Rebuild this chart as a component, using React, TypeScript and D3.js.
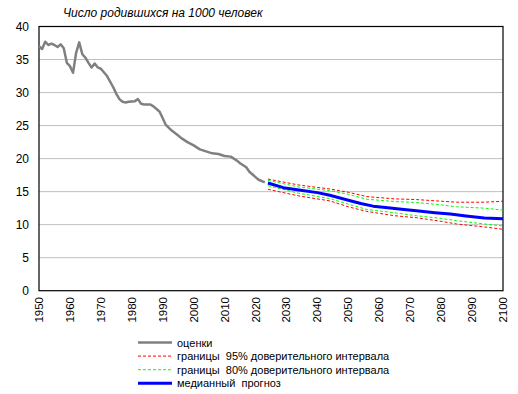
import { useEffect, useRef } from 'react';
import * as d3 from 'd3';

// Оценки (годы и значения)
const estYears = [1950, 1951, 1952, 1953, 1954, 1955, 1956, 1957, 1958, 1959, 1960, 1961, 1962, 1963, 1964, 1965, 1966, 1967, 1968, 1969, 1970, 1972, 1974, 1975, 1976, 1977, 1978, 1979, 1981, 1982, 1983, 1984, 1986, 1987, 1988, 1989, 1990, 1991, 1993, 1995, 1996, 1998, 2000, 2002, 2004, 2006, 2008, 2010, 2012, 2014, 2015, 2017, 2018, 2020, 2021, 2023];
const estValues = [37.0, 36.6, 37.7, 37.2, 37.4, 37.2, 36.9, 37.3, 36.7, 34.5, 34.0, 33.0, 36.0, 37.6, 35.8, 35.3, 34.5, 33.8, 34.4, 33.8, 33.6, 32.5, 30.8, 29.8, 29.0, 28.6, 28.5, 28.6, 28.7, 29.0, 28.3, 28.2, 28.2, 27.9, 27.5, 27.1, 26.1, 25.1, 24.2, 23.5, 23.1, 22.5, 22.0, 21.4, 21.1, 20.8, 20.7, 20.4, 20.3, 19.7, 19.3, 18.7, 18.0, 17.2, 16.8, 16.4];

// Прогноз
const projYears = [2024, 2029, 2034, 2040, 2044, 2050, 2054, 2058, 2062, 2068, 2072, 2078, 2083, 2088, 2094, 2100];
const median = [16.3, 15.6, 15.25, 14.85, 14.45, 13.7, 13.2, 12.8, 12.6, 12.3, 12.1, 11.8, 11.6, 11.3, 11.0, 10.9];

const bandYears = [2024, 2034, 2044, 2050, 2056, 2065, 2072, 2080, 2085, 2094, 2100];
const upper95 = [16.9, 16.0, 15.4, 14.9, 14.25, 13.9, 13.8, 13.55, 13.4, 13.4, 13.55];
const upper80 = [16.7, 15.7, 15.15, 14.6, 13.85, 13.5, 13.35, 13.0, 12.7, 12.5, 12.2];
const lower80 = [15.9, 14.75, 13.95, 13.1, 12.3, 11.8, 11.35, 10.95, 10.6, 10.1, 9.8];
const lower95 = [15.35, 14.35, 13.6, 12.7, 12.0, 11.35, 11.05, 10.5, 10.1, 9.65, 9.3];

const yTicks = [0, 5, 10, 15, 20, 25, 30, 35, 40];
const xTicks = d3.range(1950, 2101, 10);

const legendItems = [
  { label: 'оценки', color: '#808080', width: 2.5, dash: null },
  { label: 'границы  95% доверительного интервала', color: '#FF0000', width: 1, dash: '3,2' },
  { label: 'границы  80% доверительного интервала', color: '#00FF00', width: 1, dash: '3,2' },
  { label: 'медианный  прогноз', color: '#0000FF', width: 3, dash: null },
];

export default function App() {
  const svgRef = useRef<SVGSVGElement>(null);

  useEffect(() => {
    const svg = d3.select(svgRef.current);
    svg.selectAll('*').remove();
    const font = 'Arial, "Liberation Sans", sans-serif';

    const x = d3.scaleLinear().domain([1950, 2100]).range([39, 503]);
    const y = d3.scaleLinear().domain([0, 40]).range([290.7, 26.5]);

    // Title
    svg.append('text').attr('x', 63).attr('y', 17)
      .attr('font-family', font).attr('font-size', 12).attr('font-style', 'italic')
      .attr('fill', '#000').text('Число родившихся на 1000 человек');

    // Grid
    svg.append('g').selectAll('line').data(yTicks.filter((t) => t > 0 && t < 40)).join('line')
      .attr('x1', x(1950)).attr('x2', x(2100))
      .attr('y1', (d) => y(d)).attr('y2', (d) => y(d))
      .attr('stroke', '#C0C0C0').attr('stroke-width', 1);

    // Frame
    svg.append('rect').attr('x', x(1950)).attr('y', y(40))
      .attr('width', x(2100) - x(1950)).attr('height', y(0) - y(40))
      .attr('fill', 'none').attr('stroke', '#000').attr('stroke-width', 1.2);

    // Y labels
    svg.append('g').selectAll('text').data(yTicks).join('text')
      .attr('x', 29).attr('y', (d) => y(d) + 4.5)
      .attr('text-anchor', 'end').attr('font-family', font).attr('font-size', 12)
      .attr('fill', '#000').text((d) => String(d));

    // X labels (vertical)
    svg.append('g').selectAll('text').data(xTicks).join('text')
      .attr('transform', (d) => `translate(${x(d) + 4},297) rotate(-90)`)
      .attr('text-anchor', 'end').attr('font-family', font).attr('font-size', 11.5)
      .attr('fill', '#000').text((d) => String(d));

    const line = d3.line<[number, number]>().x((d) => x(d[0])).y((d) => y(d[1]));
    const zip = (xs: number[], vs: number[]) => xs.map((v, i) => [v, vs[i]] as [number, number]);

    const drawLine = (pts: [number, number][], color: string, w: number, dash: string | null) => {
      const p = svg.append('path').attr('d', line(pts)).attr('fill', 'none')
        .attr('stroke', color).attr('stroke-width', w).attr('stroke-linejoin', 'round');
      if (dash) p.attr('stroke-dasharray', dash);
    };

    drawLine(zip(estYears, estValues), '#808080', 2.5, null);
    drawLine(zip(bandYears, upper95), '#FF0000', 1, '3,2');
    drawLine(zip(bandYears, lower95), '#FF0000', 1, '3,2');
    drawLine(zip(bandYears, upper80), '#00FF00', 1, '3,2');
    drawLine(zip(bandYears, lower80), '#00FF00', 1, '3,2');
    drawLine(zip(projYears, median), '#0000FF', 3, null);

    // Legend
    const lg = svg.append('g');
    legendItems.forEach((item, i) => {
      const ly = 342.5 + i * 13.6;
      const l = lg.append('line').attr('x1', 138).attr('x2', 172).attr('y1', ly).attr('y2', ly)
        .attr('stroke', item.color).attr('stroke-width', item.width);
      if (item.dash) l.attr('stroke-dasharray', item.dash);
      lg.append('text').attr('x', 177).attr('y', ly + 4).attr('font-family', font)
        .attr('font-size', 11).attr('fill', '#000').attr('xml:space', 'preserve')
        .style('white-space', 'pre').text(item.label);
    });
  }, []);

  return (
    <svg ref={svgRef} width={518} height={394}
      style={{ position: 'absolute', left: 0, top: 0, background: '#fff' }} />
  );
}
